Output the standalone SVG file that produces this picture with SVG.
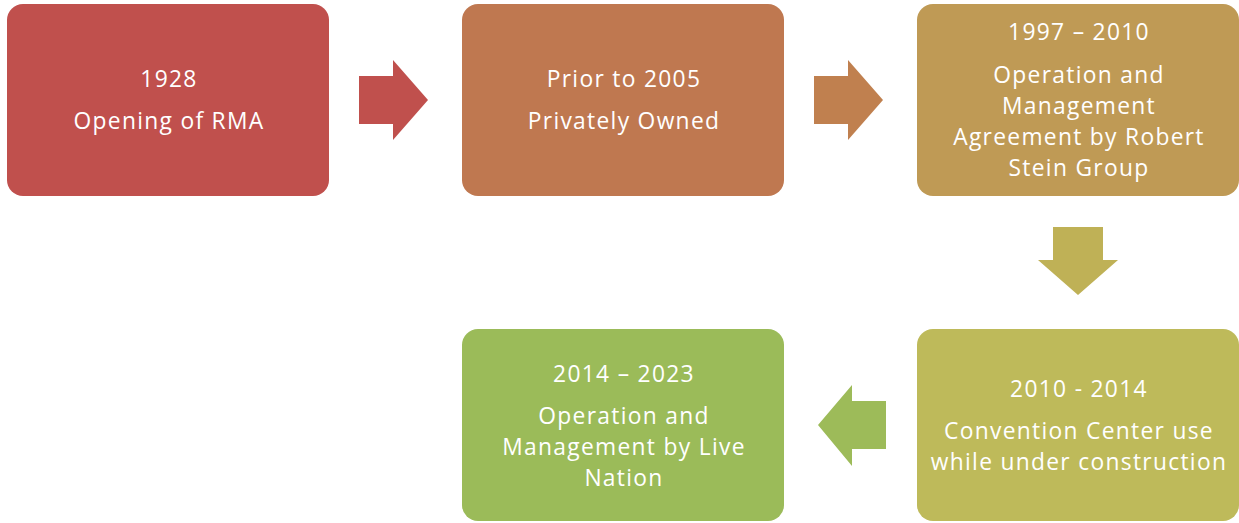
<svg xmlns="http://www.w3.org/2000/svg" width="1239" height="523" viewBox="0 0 1239 523">
  <style>
    .box { stroke: none; }
    .lbl { font-family: "Open Sans", "Liberation Sans", sans-serif; font-size: 22.8px; letter-spacing: 1.3px; fill: #ffffff; text-anchor: middle; }
  </style>
  <rect width="1239" height="523" fill="#ffffff"/>

  <!-- arrows between stages -->
  <g id="connectors">
    <polygon points="359,76 393,76 393,60 428,100 393,140 393,124 359,124" fill="#C0504D"/>
    <polygon points="814,76 848,76 848,60 883,100 848,140 848,124 814,124" fill="#C0804F"/>
    <polygon points="1053,227 1103,227 1103,260 1118,260 1078,295 1038,260 1053,260" fill="#BFB156"/>
    <polygon points="886,401 852,401 852,385 818,425 852,466 852,449 886,449" fill="#9DBB59"/>
  </g>

  <g id="stage-1928">
    <rect class="box" x="7" y="4" width="322" height="192" rx="16" fill="#C0504D"/>
    <text class="lbl" x="169" y="87">1928</text>
    <text class="lbl" x="169" y="129">Opening of RMA</text>
  </g>

  <g id="stage-prior-2005">
    <rect class="box" x="462" y="4" width="322" height="192" rx="16" fill="#BF7850"/>
    <text class="lbl" x="624" y="87">Prior to 2005</text>
    <text class="lbl" x="624" y="129">Privately Owned</text>
  </g>

  <g id="stage-1997-2010">
    <rect class="box" x="917" y="4" width="322" height="192" rx="16" fill="#BF9A55"/>
    <text class="lbl" x="1079" y="40">1997 – 2010</text>
    <text class="lbl" x="1079" y="83">Operation and</text>
    <text class="lbl" x="1079" y="114">Management</text>
    <text class="lbl" x="1079" y="145">Agreement by Robert</text>
    <text class="lbl" x="1079" y="176">Stein Group</text>
  </g>

  <g id="stage-2010-2014">
    <rect class="box" x="917" y="329" width="322" height="192" rx="16" fill="#BEBA5A"/>
    <text class="lbl" x="1079" y="397">2010 - 2014</text>
    <text class="lbl" x="1079" y="439">Convention Center use</text>
    <text class="lbl" x="1079" y="470">while under construction</text>
  </g>

  <g id="stage-2014-2023">
    <rect class="box" x="462" y="329" width="322" height="192" rx="16" fill="#9BBB59"/>
    <text class="lbl" x="624" y="382">2014 – 2023</text>
    <text class="lbl" x="624" y="424">Operation and</text>
    <text class="lbl" x="624" y="455">Management by Live</text>
    <text class="lbl" x="624" y="486">Nation</text>
  </g>
</svg>
